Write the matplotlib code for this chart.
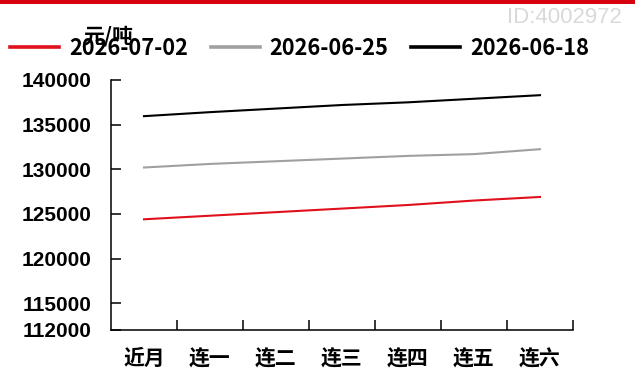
import matplotlib.pyplot as plt
from matplotlib.patches import Rectangle
from matplotlib.ticker import FixedLocator, NullFormatter

plt.rcParams['font.family'] = ['Noto Sans CJK SC', 'DejaVu Sans']

# data (元/吨)
months = ['近月', '连一', '连二', '连三', '连四', '连五', '连六']
s_0702 = [124400, 124800, 125200, 125600, 126000, 126500, 126900]
s_0625 = [130200, 130600, 130900, 131200, 131500, 131700, 132250]
s_0618 = [135950, 136400, 136800, 137200, 137500, 137900, 138300]
y_ticks = [112000, 115000, 120000, 125000, 130000, 135000, 140000]


def main():
    fig = plt.figure(figsize=(6.35, 3.76), dpi=100)
    ax = fig.add_axes([111 / 635, 1 - 330 / 376, 462 / 635, 250 / 376])

    x = list(range(len(months)))
    ax.plot(x, s_0702, color='#e0101c', lw=1.5, label='2026-07-02')
    ax.plot(x, s_0625, color='#a0a0a0', lw=1.5, label='2026-06-25')
    ax.plot(x, s_0618, color='#000000', lw=1.5, label='2026-06-18')

    ax.set_xlim(-0.5, len(months) - 0.5)
    ax.set_ylim(y_ticks[0], y_ticks[-1])

    # category labels without marks, tick marks on the boundaries
    ax.set_xticks(x)
    ax.set_xticklabels(months, fontsize=15, fontweight='bold')
    ax.tick_params(axis='x', which='major', length=0, pad=13)
    ax.xaxis.set_minor_locator(FixedLocator([i + 0.5 for i in x]))
    ax.xaxis.set_minor_formatter(NullFormatter())
    ax.tick_params(axis='x', which='minor', direction='in', length=7, width=1.1)

    ax.set_yticks(y_ticks)
    ax.set_yticklabels([str(v) for v in y_ticks], family='Liberation Sans',
                       fontsize=15, fontweight='bold')
    ax.tick_params(axis='y', direction='in', length=7, width=1.1, pad=14)

    for side in ['top', 'right']:
        ax.spines[side].set_visible(False)
    for side in ['left', 'bottom']:
        ax.spines[side].set_linewidth(1.1)

    leg = fig.legend(loc='center left', bbox_to_anchor=(10 / 635, 1 - 48.5 / 376),
                     ncol=3, frameon=False, borderpad=0, borderaxespad=0,
                     handlelength=2.25, handletextpad=0.45, columnspacing=1.05,
                     prop={'family': ['Noto Sans CJK SC'], 'weight': 'bold', 'size': 15.7})
    for h in leg.get_lines():
        h.set_linewidth(2.6)

    fig.text(83 / 635, 1 - 36 / 376, '元/吨', fontsize=15, fontweight='bold',
             va='center', ha='left')
    fig.text(622 / 635, 1 - 17.5 / 376, 'ID:4002972', family='Liberation Sans',
             fontsize=16, color='#d9d9d9', va='center', ha='right')

    # red strip along the top edge
    fig.add_artist(Rectangle((0, 1 - 3.5 / 376), 1, 3.5 / 376,
                             transform=fig.transFigure, color='#d7000f', lw=0))

    plt.savefig('out.png', dpi=100)


if __name__ == '__main__':
    main()
